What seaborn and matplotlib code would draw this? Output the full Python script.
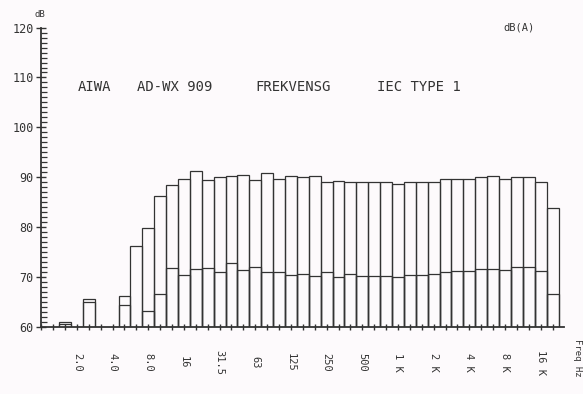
import numpy as np
import pandas as pd
import matplotlib
matplotlib.use("Agg")
import matplotlib.pyplot as plt
import seaborn as sns

# third-octave bands (1 Hz .. 20 kHz)
bands = ["1.0", "1.25", "1.6", "2.0", "2.5", "3.15", "4.0", "5.0", "6.3", "8.0",
         "10", "12.5", "16", "20", "25", "31.5", "40", "50", "63", "80",
         "100", "125", "160", "200", "250", "315", "400", "500", "630", "800",
         "1k", "1.25k", "1.6k", "2k", "2.5k", "3.15k", "4k", "5k", "6.3k", "8k",
         "10k", "12.5k", "16k", "20k"]

# outer bar level (dB)
top_db = [None, None, 61.0, None, 65.6, None, None, 66.3, 76.2, 79.8,
          86.2, 88.4, 89.6, 91.3, 89.5, 90.0, 90.3, 90.4, 89.4, 90.8,
          89.7, 90.3, 90.0, 90.3, 89.1, 89.2, 89.1, 89.1, 89.0, 89.0,
          88.6, 89.1, 89.0, 89.0, 89.6, 89.6, 89.6, 90.0, 90.2, 89.6,
          90.0, 90.0, 89.0, 83.9]

# inner line level (dB)
inner_db = [None, None, 60.6, None, 65.1, None, None, 64.5, None, 63.3,
            66.6, 71.9, 70.5, 71.7, 71.9, 71.0, 72.9, 71.5, 72.0, 71.1,
            71.0, 70.4, 70.7, 70.3, 71.1, 70.1, 70.7, 70.2, 70.3, 70.2,
            70.0, 70.5, 70.5, 70.7, 71.1, 71.2, 71.2, 71.65, 71.65, 71.45,
            72.0, 72.0, 71.3, 66.7]

# labelled bands on the x axis
label_bands = ["2.0", "4.0", "8.0", "16", "31.5", "63", "125", "250", "500",
               "1k", "2k", "4k", "8k", "16k"]
label_texts = ["2.0", "4.0", "8.0", "16", "31.5", "63", "125", "250", "500",
               "1 K", "2 K", "4 K", "8 K", "16 K"]

y_ticks = [60, 70, 80, 90, 100, 110, 120]

title_parts = ["AIWA", "AD-WX 909", "FREKVENSG", "IEC TYPE 1"]

ink = "#333333"
bg = "#fdfafc"

sns.set_style("white")
plt.rcParams["font.family"] = ["DejaVu Sans Mono", "DejaVu Sans"]

df = pd.DataFrame({"band": bands,
                   "top": pd.Series(top_db, dtype="float"),
                   "inner": pd.Series(inner_db, dtype="float")})

fig = plt.figure(figsize=(5.83, 3.94), dpi=100, facecolor=bg)
ax = fig.add_axes([0.0707, 0.1688, 0.8975, 0.7614])
ax.set_facecolor(bg)

d_top = df.dropna(subset=["top"])
d_in = df.dropna(subset=["inner"])
sns.barplot(data=d_top, x="band", y="top", order=bands, width=1.0, fill=False,
            color=ink, linewidth=0.9, ax=ax, errorbar=None)
sns.barplot(data=d_in, x="band", y="inner", order=bands, width=1.0, fill=False,
            color=ink, linewidth=0.9, ax=ax, errorbar=None)

ax.set_xlim(0, 44)
ax.set_ylim(60, 120)
ax.set_xlabel("")
ax.set_ylabel("")

for s in ["top", "right"]:
    ax.spines[s].set_visible(False)
for s in ["left", "bottom"]:
    ax.spines[s].set_color(ink)
    ax.spines[s].set_linewidth(1.3)

# x ticks at every band, labels drawn separately (rotated plotter style)
ax.set_xticks(range(len(bands)))
ax.set_xticklabels([])
ax.tick_params(axis="x", which="major", bottom=True, direction="inout",
               length=5, width=1.0, color=ink)
for b, t in zip(label_bands, label_texts):
    ax.text(bands.index(b), -0.117, t, rotation=-90, ha="center", va="center",
            fontsize=7.5, color=ink, transform=ax.get_xaxis_transform(), clip_on=False)
ax.text(1.024, -0.04, "Freq Hz", rotation=-90, ha="center", va="top",
        fontsize=6.5, color=ink, transform=ax.transAxes, clip_on=False)

# y ticks
ax.set_yticks(y_ticks)
ax.set_yticklabels([str(v) for v in y_ticks], fontsize=8.5, color=ink)
ax.yaxis.set_minor_locator(matplotlib.ticker.MultipleLocator(1))
ax.tick_params(axis="y", which="major", left=True, direction="inout", length=7,
               width=1.0, color=ink, pad=2)
ax.tick_params(axis="y", which="minor", left=True, direction="in", length=4,
               width=0.9, color=ink)

fig.text(0.059, 0.962, "dB", fontsize=6.5, color=ink, ha="left", va="center")
fig.text(0.863, 0.929, "dB(A)", fontsize=7.5, color=ink, ha="left", va="center")

xs = [78, 137, 255, 377]
for x, t in zip(xs, title_parts):
    fig.text(x / 583, 1 - 87 / 394, t, fontsize=10, color=ink, ha="left", va="center")

fig.savefig("out.png", dpi=100, facecolor=bg)
